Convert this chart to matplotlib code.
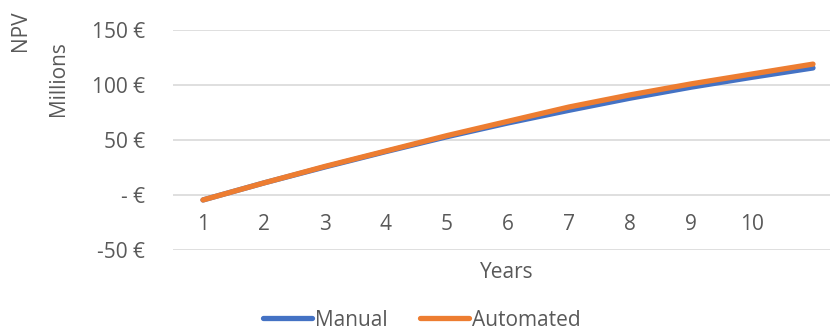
import numpy as np
import matplotlib.pyplot as plt
from matplotlib.lines import Line2D

plt.rcParams["font.family"] = ["Open Sans", "DejaVu Sans"]

years = [1, 2, 3, 4, 5, 6, 7, 8, 9, 10, 11]
year_labels = ["1", "2", "3", "4", "5", "6", "7", "8", "9", "10"]
npv_manual = [-4.5, 11, 25.5, 39.5, 53, 65.5, 77, 88, 98, 107, 115.5]
npv_automated = [-4.5, 11, 26, 40, 54, 67, 80, 91, 101, 110, 119]
y_ticks = [-50, 0, 50, 100, 150]

grey = "#595959"
blue = "#4472C4"
orange = "#ED7D31"


def euro(v):
    if v == 0:
        return "- €"
    return "%d €" % v


fig = plt.figure(figsize=(8.3, 3.29), dpi=100)
ax = fig.add_axes([172.5 / 830, 79 / 329, 671 / 830, 220 / 329])

ax.plot(years, npv_manual, color=blue, lw=3.8, solid_capstyle="round", zorder=3)
ax.plot(years, npv_automated, color=orange, lw=3.8, solid_capstyle="round", zorder=4)

ax.set_xlim(0.5, 11.5)
ax.set_ylim(-50, 150)
ax.set_yticks(y_ticks)
ax.set_yticklabels([euro(v) for v in y_ticks])
ax.grid(axis="y", color="#d9d9d9", lw=1.2)
ax.set_axisbelow(True)

ax.spines["bottom"].set_position(("data", 0))
for s in ["top", "right", "left", "bottom"]:
    ax.spines[s].set_visible(False)
ax.set_xticks(years[:len(year_labels)])
ax.set_xticklabels(year_labels)
ax.tick_params(axis="x", length=0, pad=14, labelsize=15, labelcolor=grey)
ax.tick_params(axis="y", length=0, pad=20, labelsize=15, labelcolor=grey)

fig.text(20 / 830, 1 - 31 / 329, "NPV", rotation=90, ha="center", va="center",
         fontsize=15, color=grey)
fig.text(58 / 830, 1 - 79 / 329, "Millions", rotation=90, ha="center", va="center",
         fontsize=15, color=grey)
fig.text(507 / 830, 1 - 272 / 329, "Years", ha="center", va="center",
         fontsize=15, color=grey)

handles = [Line2D([], [], color=blue, lw=3.8, solid_capstyle="round"),
           Line2D([], [], color=orange, lw=3.8, solid_capstyle="round")]
fig.legend(handles, ["Manual", "Automated"], loc="center", ncol=2,
           bbox_to_anchor=(422 / 830, 1 - 320 / 329), frameon=False,
           fontsize=15, labelcolor=grey, handlelength=2.35, handletextpad=0.15,
           columnspacing=1.55, borderaxespad=0)

fig.savefig("out.png", dpi=100)
